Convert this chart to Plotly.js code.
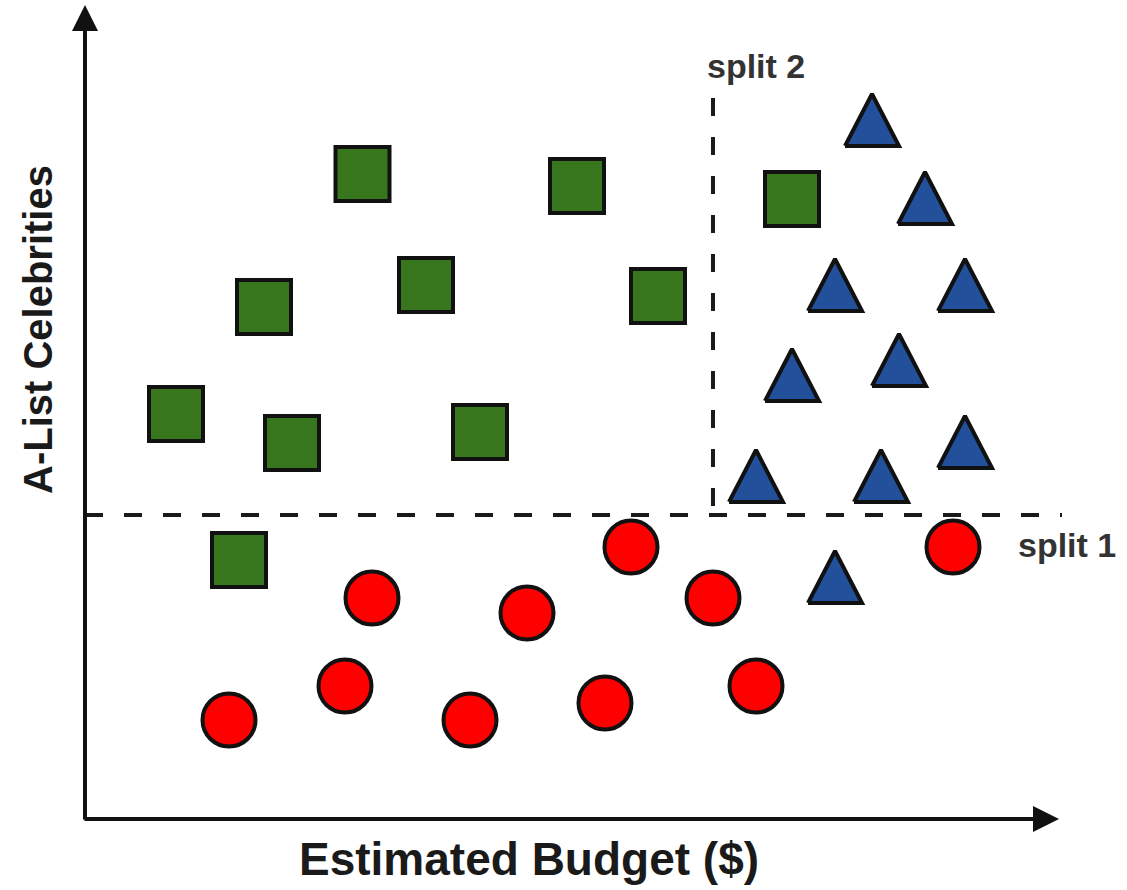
<!DOCTYPE html>
<html>
<head>
<meta charset="utf-8">
<script src="https://cdn.plot.ly/plotly-3.0.1.min.js"></script>
<style>
  html, body { margin: 0; padding: 0; background: #ffffff; }
  #chart { width: 1127px; height: 890px; }
</style>
</head>
<body>
<div id="chart"></div>
<script>
// ---- Data (x = estimated budget, y = A-list celebrities, arbitrary units) ----
const squareX   = [27.75, 17.9, 34.1, 9.1, 20.7, 49.2, 70.7, 57.3, 39.5, 15.4];
const squareY   = [64.5, 51.2, 53.4, 40.5, 37.6, 63.3, 62.0, 52.3, 38.7, 25.9];
const circleX   = [86.8, 67.1, 14.4, 26.0, 28.7, 54.6, 44.2, 62.8, 38.5, 52.0];
const circleY   = [27.2, 13.3, 9.9, 13.3, 22.1, 27.2, 20.6, 22.1, 9.9, 11.6];
const triangleX = [75.0, 88.0, 70.7, 81.4, 67.1, 79.6, 88.0, 78.7, 84.0, 75.0];
const triangleY = [53.4, 53.4, 44.4, 45.9, 34.3, 34.3, 37.7, 69.9, 62.1, 24.2];
const split1Y = 30.4;          // horizontal split (celebrities)
const split2X = 62.8;          // vertical split (budget)
const labels = { x: 'Estimated Budget ($)', y: 'A-List Celebrities', s1: 'split 1', s2: 'split 2' };

// ---- Styles ----
const GREEN = '#38761d', BLUE = '#22509a', RED = '#ff0000', EDGE = '#111111';
const FONT = 'Liberation Sans, Arial, sans-serif';
const TRI_HW = 2.7, TRI_HH = 2.6;   // triangle half width / half height (axis units)

// Triangle outlines built from the triangle centres
const triX = [], triY = [];
triangleX.forEach((cx, i) => {
  const cy = triangleY[i];
  triX.push(cx - TRI_HW, cx + TRI_HW, cx, cx - TRI_HW, null);
  triY.push(cy - TRI_HH, cy - TRI_HH, cy + TRI_HH, cy - TRI_HH, null);
});

const xMin = -8.5, xMax = 104.2, yMin = -7.1, yMax = 81.9;

const dashStyle = { color: '#1a1a1a', width: 4, dash: '18px,21px' };

const traces = [
  { type: 'scatter', mode: 'lines', x: [0, 97.7], y: [split1Y, split1Y],
    line: dashStyle, hoverinfo: 'skip', showlegend: false },
  { type: 'scatter', mode: 'lines', x: [split2X, split2X], y: [72.1, split1Y],
    line: dashStyle, hoverinfo: 'skip', showlegend: false },
  { type: 'scatter', mode: 'markers', name: 'square', x: squareX, y: squareY,
    marker: { symbol: 'square', size: 54, color: GREEN, line: { color: EDGE, width: 4 } },
    showlegend: false },
  { type: 'scatter', mode: 'markers', name: 'circle', x: circleX, y: circleY,
    marker: { symbol: 'circle', size: 53, color: RED, line: { color: EDGE, width: 4 } },
    showlegend: false },
  { type: 'scatter', mode: 'lines', name: 'triangle', x: triX, y: triY,
    fill: 'toself', fillcolor: BLUE, line: { color: EDGE, width: 4 },
    showlegend: false }
];

const axisArrow = (x, y, ax, ay) => ({
  x: x, y: y, ax: ax, ay: ay, xref: 'x', yref: 'y', axref: 'x', ayref: 'y',
  text: '', showarrow: true, arrowhead: 2, arrowsize: 1.3, arrowwidth: 4,
  arrowcolor: '#111111', standoff: 0, startstandoff: 0
});

const layout = {
  width: 1127, height: 890,
  margin: { l: 0, r: 0, t: 0, b: 0, pad: 0 },
  paper_bgcolor: '#ffffff', plot_bgcolor: '#ffffff',
  showlegend: false,
  xaxis: { range: [xMin, xMax], visible: false, fixedrange: true },
  yaxis: { range: [yMin, yMax], visible: false, fixedrange: true },
  annotations: [
    axisArrow(97.4, 0, -0.2, 0),
    axisArrow(0, 81.4, 0, -0.2),
    { x: 44.35, y: -4.0, xref: 'x', yref: 'y', text: labels.x, showarrow: false,
      xanchor: 'center', yanchor: 'middle',
      font: { family: FONT, size: 46, color: '#1a1a1a', weight: 'bold' } },
    { x: -4.7, y: 48.9, xref: 'x', yref: 'y', text: labels.y, showarrow: false,
      textangle: -90, xanchor: 'center', yanchor: 'middle',
      font: { family: FONT, size: 40, color: '#1a1a1a', weight: 'bold' } },
    { x: 62.0, y: 75.3, xref: 'x', yref: 'y', text: labels.s2, showarrow: false,
      xanchor: 'left', yanchor: 'middle',
      font: { family: FONT, size: 34, color: '#333333', weight: 'bold' } },
    { x: 93.1, y: 27.4, xref: 'x', yref: 'y', text: labels.s1, showarrow: false,
      xanchor: 'left', yanchor: 'middle',
      font: { family: FONT, size: 34, color: '#333333', weight: 'bold' } }
  ]
};

Plotly.newPlot('chart', traces, layout, { displayModeBar: false, staticPlot: true });
</script>
</body>
</html>
